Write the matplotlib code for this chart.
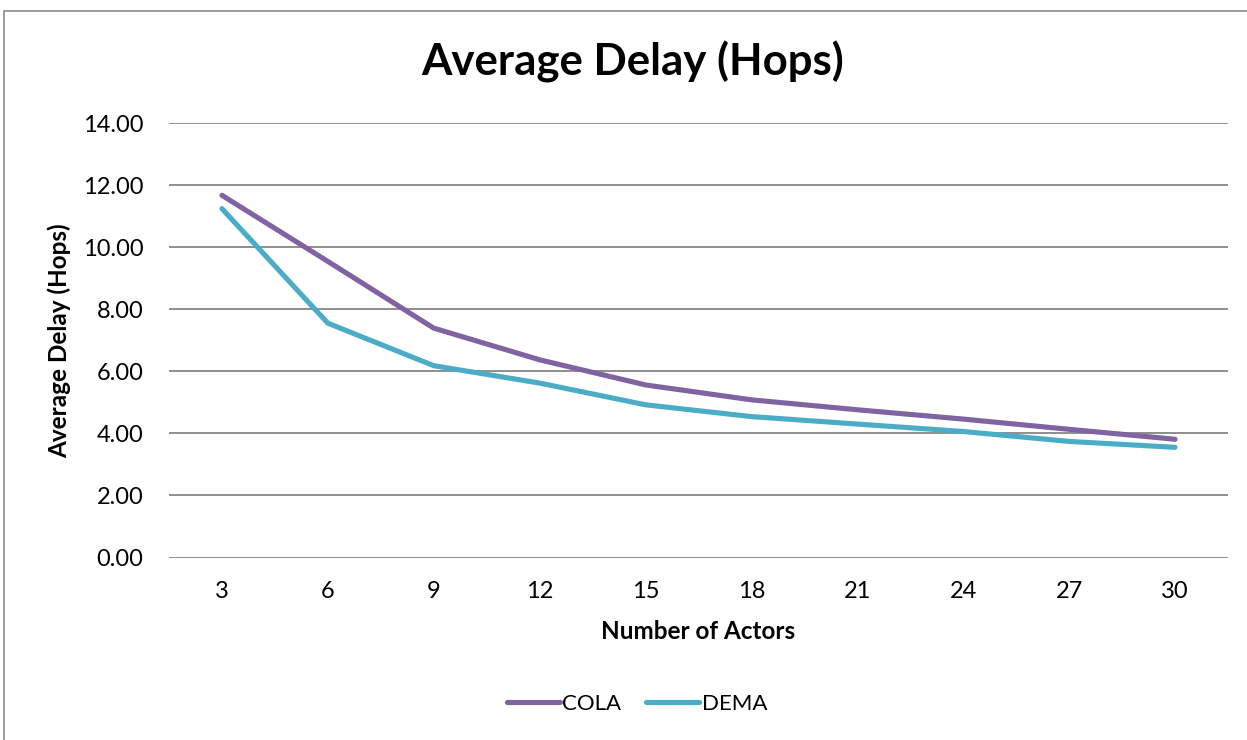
import matplotlib.pyplot as plt
from matplotlib.patches import Rectangle

# Average delay per number of actors
actors = [3, 6, 9, 12, 15, 18, 21, 24, 27, 30]
cola = [11.67, 9.54, 7.39, 6.37, 5.56, 5.08, 4.76, 4.46, 4.13, 3.81]
dema = [11.24, 7.55, 6.18, 5.62, 4.92, 4.54, 4.30, 4.06, 3.74, 3.55]
y_ticks = [0, 2, 4, 6, 8, 10, 12, 14]

COLA_COLOR = "#8064A2"
DEMA_COLOR = "#4BACC6"
GRID_COLOR = "#868686"
FONT = ["Lato", "DejaVu Sans"]

plt.rcParams["font.family"] = FONT

W, H = 1247, 740
fig = plt.figure(figsize=(W / 100, H / 100), dpi=100)

# chart border like the spreadsheet frame
fig.patches.append(Rectangle((4 / W, -0.1), 1.2, 1.1 - 11 / H, transform=fig.transFigure,
                             fill=False, edgecolor="#8c8c8c", linewidth=1.2))

ax = fig.add_axes([169 / W, 1 - 557.5 / H, (1228 - 169) / W, (557.5 - 123) / H])

x = list(range(len(actors)))
ax.plot(x, cola, color=COLA_COLOR, linewidth=3.7, solid_capstyle="round", label="COLA", zorder=3)
ax.plot(x, dema, color=DEMA_COLOR, linewidth=3.7, solid_capstyle="round", label="DEMA", zorder=3)

ax.set_xlim(-0.5, len(actors) - 0.5)
ax.set_ylim(0, 14)
ax.set_yticks(y_ticks)
ax.set_yticklabels([f"{v:.2f}" for v in y_ticks])
ax.set_xticks(x)
ax.set_xticklabels([str(a) for a in actors])
ax.tick_params(axis="both", length=0, labelsize=17)
ax.tick_params(axis="y", pad=18.5)
ax.tick_params(axis="x", pad=17)

ax.grid(axis="y", color=GRID_COLOR, linewidth=1.3, zorder=1)
ax.set_axisbelow(True)
for s in ax.spines.values():
    s.set_visible(False)

ax.set_xlabel("Number of Actors", fontsize=17.5, fontweight="bold", labelpad=13)
ax.set_ylabel("Average Delay (Hops)", fontsize=17.5, fontweight="bold", labelpad=8)

fig.text(633 / W, 1 - 62 / H, "Average Delay (Hops)", ha="center", va="center",
         fontsize=31.5, fontweight="bold")

fig.legend(loc="center", bbox_to_anchor=(637 / W, 1 - 704 / H), ncol=2, frameon=False,
           fontsize=16, handlelength=2.4, handletextpad=0.1, columnspacing=1.1)

fig.savefig("out.png", dpi=100)
